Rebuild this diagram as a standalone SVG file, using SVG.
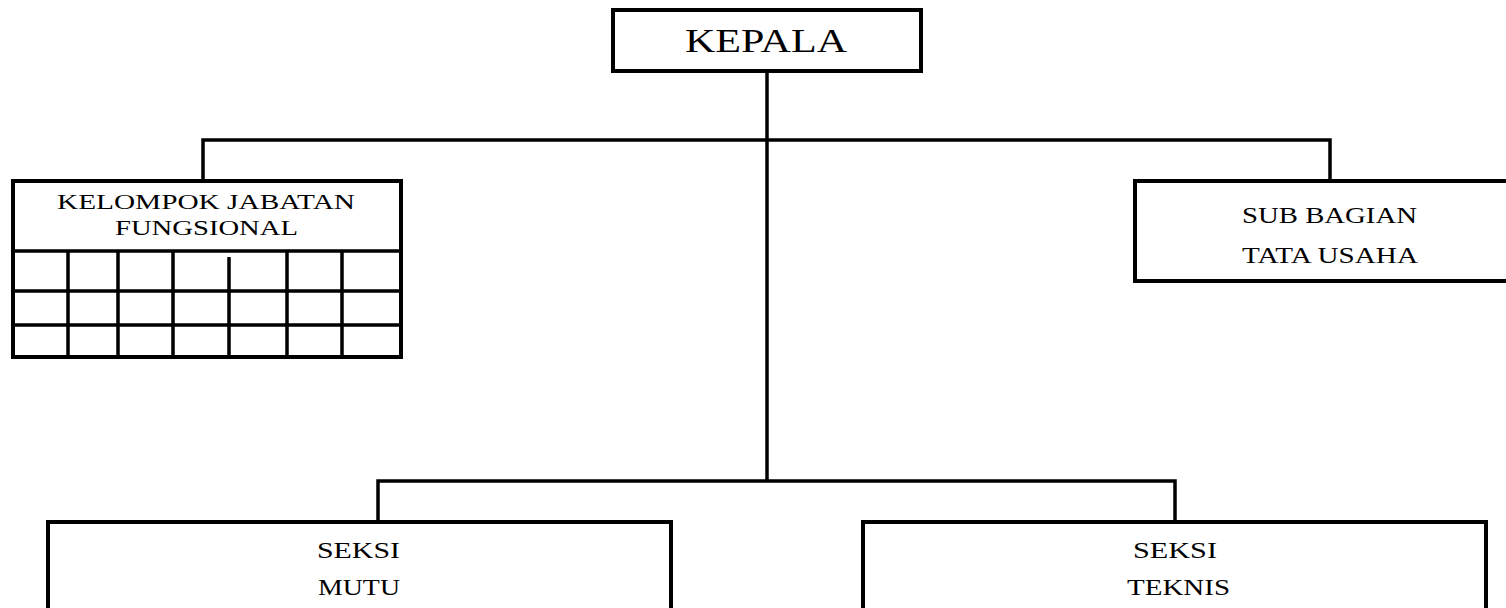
<svg xmlns="http://www.w3.org/2000/svg" width="1506" height="608" viewBox="0 0 1506 608">
<style>
.box{fill:#fff;stroke:#000;stroke-width:4}
.ln{fill:none;stroke:#000;stroke-width:3.5}
text{font-family:"Liberation Serif","Times New Roman",serif;fill:#000}
</style>
<rect x="0" y="0" width="1506" height="608" fill="#fff"/>
<g id="connectors">
<path class="ln" d="M767 71 V481"/>
<path class="ln" d="M203 181 V140 H1330 V181"/>
<path class="ln" d="M378 522 V481 H1175 V522"/>
</g>
<g id="kepala">
<rect class="box" x="613" y="10" width="308" height="61"/>
<text x="685" y="52" font-size="33" textLength="162" lengthAdjust="spacingAndGlyphs">KEPALA</text>
</g>
<g id="kelompok">
<rect class="box" x="13" y="181" width="388" height="176"/>
<path class="ln" d="M13 251 H401 M13 291 H401 M13 325 H401 M68 251 V357 M118 251 V357 M173 251 V357 M229 257 V357 M287 251 V357 M342 251 V357"/>
<text x="57" y="209" font-size="21" textLength="298" lengthAdjust="spacingAndGlyphs">KELOMPOK JABATAN</text>
<text x="115" y="235" font-size="21" textLength="183" lengthAdjust="spacingAndGlyphs">FUNGSIONAL</text>
</g>
<g id="subbagian">
<rect class="box" x="1135" y="181" width="380" height="100"/>
<text x="1242" y="223" font-size="23" textLength="175" lengthAdjust="spacingAndGlyphs">SUB BAGIAN</text>
<text x="1242" y="263" font-size="23" textLength="176" lengthAdjust="spacingAndGlyphs">TATA USAHA</text>
</g>
<g id="mutu">
<rect class="box" x="48" y="522" width="623" height="100"/>
<text x="317" y="558" font-size="24" textLength="83" lengthAdjust="spacingAndGlyphs">SEKSI</text>
<text x="318" y="595" font-size="24" textLength="82" lengthAdjust="spacingAndGlyphs">MUTU</text>
</g>
<g id="teknis">
<rect class="box" x="863" y="522" width="623" height="100"/>
<text x="1133" y="558" font-size="24" textLength="84" lengthAdjust="spacingAndGlyphs">SEKSI</text>
<text x="1127" y="595" font-size="24" textLength="103" lengthAdjust="spacingAndGlyphs">TEKNIS</text>
</g>
</svg>
